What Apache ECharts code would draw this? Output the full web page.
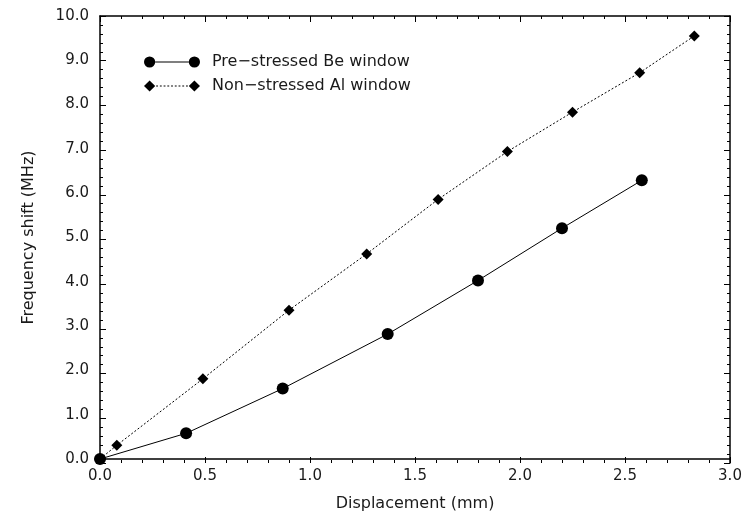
<!DOCTYPE html>
<html>
<head>
<meta charset="utf-8">
<script src="https://cdn.jsdelivr.net/npm/echarts@6/dist/echarts.min.js"></script>
<style>
  html, body { margin: 0; padding: 0; background: #fff; }
  #chart { width: 748px; height: 517px; }
</style>
</head>
<body>
<div id="chart"></div>
<script>
// data
var beX = [0, 0.41, 0.87, 1.37, 1.80, 2.20, 2.58];
var beY = [0, 0.58, 1.59, 2.82, 4.03, 5.21, 6.29];
var alX = [0, 0.08, 0.49, 0.90, 1.27, 1.61, 1.94, 2.25, 2.57, 2.83];
var alY = [0, 0.31, 1.81, 3.36, 4.63, 5.86, 6.94, 7.83, 8.72, 9.55];
var seriesNames = ['Pre\u2212stressed Be window', 'Non\u2212stressed Al window'];

function pairs(xs, ys) {
  return xs.map(function (x, i) { return [x, ys[i]]; });
}

var font = 'DejaVu Sans, sans-serif';
var ink = '#000';
var textInk = '#1a1a1a';

// plot box in px
var L = 100, R = 18, T = 16, B = 54;
var W = 748 - L - R, H = 517 - T - B;

// legend icons: marker - line - marker
var beIcon = 'path://M0,6A6,6 0 1,0 12,6A6,6 0 1,0 0,6Z M12,5.5L48,5.5L48,6.5L12,6.5Z M48,6A6,6 0 1,0 60,6A6,6 0 1,0 48,6Z';
var alIcon = 'path://M0,6L6,0L12,6L6,12Z M48,6L54,0L60,6L54,12Z' +
  ' M13,5.5L15,5.5L15,6.5L13,6.5Z M17,5.5L19,5.5L19,6.5L17,6.5Z M21,5.5L23,5.5L23,6.5L21,6.5Z' +
  ' M25,5.5L27,5.5L27,6.5L25,6.5Z M29,5.5L31,5.5L31,6.5L29,6.5Z M33,5.5L35,5.5L35,6.5L33,6.5Z' +
  ' M37,5.5L39,5.5L39,6.5L37,6.5Z M41,5.5L43,5.5L43,6.5L41,6.5Z M45,5.5L47,5.5L47,6.5L45,6.5Z';

function frameAxis(isX, gridIndex) {
  return {
    type: 'value',
    gridIndex: gridIndex,
    min: 0,
    max: isX ? 3 : 10,
    interval: isX ? 0.5 : 1,
    axisLine: { show: true, lineStyle: { color: ink, width: 1.5 } },
    axisTick: { show: false },
    minorTick: { show: false },
    splitLine: { show: false },
    axisLabel: { show: false }
  };
}

var grids = [
  { left: L, right: R, top: T, bottom: B },
  { left: L, right: R, top: T, bottom: B }
];

var xMain = frameAxis(true, 0);
xMain.axisLabel = { show: true, color: textInk, fontFamily: font, fontSize: 15, margin: 10,
  formatter: function (v) { return v.toFixed(1); } };
xMain.name = 'Displacement (mm)';
xMain.nameLocation = 'middle';
xMain.nameGap = 37;
xMain.nameTextStyle = { color: textInk, fontFamily: font, fontSize: 16 };

var yMain = frameAxis(false, 0);
yMain.axisLabel = { show: true, color: textInk, fontFamily: font, fontSize: 15, margin: 11,
  formatter: function (v) { return v.toFixed(1); } };
yMain.name = 'Frequency shift (MHz)';
yMain.nameLocation = 'middle';
yMain.nameGap = 63;
yMain.nameTextStyle = { color: textInk, fontFamily: font, fontSize: 16 };

// top / right frame lines
var xTop = frameAxis(true, 1);
xTop.position = 'top';
xTop.inverse = true;
var yRight = frameAxis(false, 1);
yRight.position = 'right';
yRight.inverse = true;

var xAxes = [xMain, xTop];
var yAxes = [yMain, yRight];

// inward ticks: thin strip grids along each edge whose split lines are the ticks
function addStrip(isX, box, minor) {
  var gi = grids.length;
  grids.push(box);
  var tickAxis = {
    type: 'value', gridIndex: gi,
    min: 0, max: isX ? 3 : 10, interval: isX ? 0.5 : 1,
    axisLine: { show: false }, axisTick: { show: false }, axisLabel: { show: false },
    minorTick: { show: false, splitNumber: 5 },
    splitLine: { show: !minor, lineStyle: { color: ink, width: 1 } },
    minorSplitLine: { show: minor, lineStyle: { color: ink, width: 1 } }
  };
  var dummy = { type: 'value', gridIndex: gi, min: 0, max: 1, show: false,
    splitLine: { show: false } };
  xAxes.push(isX ? tickAxis : dummy);
  yAxes.push(isX ? dummy : tickAxis);
}
var major = 6, minorLen = 3;
[major, minorLen].forEach(function (len) {
  var isMinor = len === minorLen;
  addStrip(true, { left: L, width: W, top: T + H - len, height: len }, isMinor);   // bottom
  addStrip(true, { left: L, width: W, top: T, height: len }, isMinor);             // top
  addStrip(false, { left: L, width: len, top: T, height: H }, isMinor);            // left
  addStrip(false, { left: L + W - len, width: len, top: T, height: H }, isMinor);  // right
});

var option = {
  animation: false,
  backgroundColor: '#fff',
  grid: grids,
  legend: {
    left: 144,
    top: 54,
    padding: 0,
    orient: 'vertical',
    itemWidth: 56,
    itemHeight: 12,
    itemGap: 8,
    textStyle: { color: textInk, fontFamily: font, fontSize: 16, padding: [0, 0, 0, 7] },
    data: [
      { name: seriesNames[0], icon: beIcon, itemStyle: { color: ink } },
      { name: seriesNames[1], icon: alIcon, itemStyle: { color: ink } }
    ]
  },
  xAxis: xAxes,
  yAxis: yAxes,
  series: [
    {
      name: seriesNames[0],
      type: 'line',
      xAxisIndex: 0,
      yAxisIndex: 0,
      data: pairs(beX, beY),
      symbol: 'circle',
      symbolSize: 12,
      itemStyle: { color: ink },
      lineStyle: { color: ink, width: 1, type: 'solid' },
      z: 3
    },
    {
      name: seriesNames[1],
      type: 'line',
      xAxisIndex: 0,
      yAxisIndex: 0,
      data: pairs(alX, alY),
      symbol: 'diamond',
      symbolSize: 11,
      itemStyle: { color: ink },
      lineStyle: { color: ink, width: 1, type: [2, 2] },
      z: 3
    }
  ]
};

var chart = echarts.init(document.getElementById('chart'));
chart.setOption(option);
</script>
</body>
</html>
